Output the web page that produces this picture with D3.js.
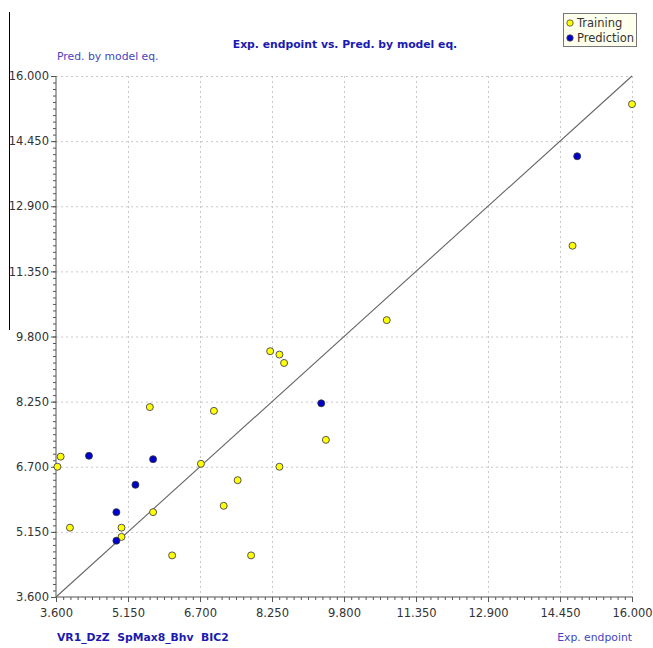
<!DOCTYPE html>
<html>
<head>
<meta charset="utf-8">
<script src="https://d3js.org/d3.v7.min.js"></script>
<style>
html,body{margin:0;padding:0;background:#fff;}
svg{display:block;}
</style>
</head>
<body>
<script>
// ---- data ----
const tickValues = [3.6, 5.15, 6.7, 8.25, 9.8, 11.35, 12.9, 14.45, 16.0];
const trainingX = [3.63, 3.70, 3.90, 5.01, 5.01, 5.62, 5.69, 6.10, 6.72, 7.00, 7.21, 7.51, 7.80, 8.21, 8.41, 8.51, 8.41, 9.41, 10.72, 14.72, 16.0];
const trainingY = [6.70, 6.94, 5.25, 5.25, 5.03, 8.12, 5.62, 4.59, 6.77, 8.03, 5.77, 6.38, 4.59, 9.45, 9.37, 9.17, 6.70, 7.34, 10.19, 11.96, 15.33];
const predictionX = [4.31, 4.90, 4.90, 5.31, 5.69, 9.31, 14.82];
const predictionY = [6.96, 5.62, 4.94, 6.27, 6.88, 8.21, 14.09];
const seriesNames = ["Training", "Prediction"];
const titleText = "Exp. endpoint vs. Pred. by model eq.";
const yTitle = "Pred. by model eq.";
const xTitle = "Exp. endpoint";
const modelText = "VR1_DzZ  SpMax8_Bhv  BIC2";

const W = 653, H = 648;
const svg = d3.select("body").append("svg").attr("width", W).attr("height", H);
const font = "Tahoma, 'DejaVu Sans', Verdana, sans-serif";

const x = d3.scaleLinear().domain([3.6, 16]).range([56, 632]);
const y = d3.scaleLinear().domain([3.6, 16]).range([597, 76]);

// stray vertical line at left
svg.append("line").attr("x1", 9.5).attr("x2", 9.5).attr("y1", 12).attr("y2", 330)
  .attr("stroke", "#000").attr("stroke-width", 1);

// grid
const grid = svg.append("g");
tickValues.slice(1).forEach(v => {
  grid.append("line").attr("x1", x(v)+0.5).attr("x2", x(v)+0.5).attr("y1", y(16)).attr("y2", y(3.6))
    .attr("stroke", "#c8c8c8").attr("stroke-dasharray", "2,3");
  grid.append("line").attr("x1", x(3.6)).attr("x2", x(16)).attr("y1", y(v)+0.5).attr("y2", y(v)+0.5)
    .attr("stroke", "#c8c8c8").attr("stroke-dasharray", "2,3");
});

// minor ticks
const minor = d3.range(0, 81).map(i => 3.6 + i * 0.155);

const xAxisMinor = d3.axisBottom(x).tickValues(minor).tickSize(3).tickFormat("");
const yAxisMinor = d3.axisLeft(y).tickValues(minor).tickSize(3).tickFormat("");
const xAxis = d3.axisBottom(x).tickValues(tickValues).tickSize(5).tickPadding(7).tickFormat(d3.format(".3f"));
const yAxis = d3.axisLeft(y).tickValues(tickValues).tickSize(5).tickPadding(2).tickFormat(d3.format(".3f"));

function style(g){
  g.selectAll("path,line").attr("stroke", "#555");
  g.selectAll("text").attr("fill", "#333").style("font-family", font).style("font-size", "11.5px");
}
svg.append("g").attr("transform", `translate(0,${y(3.6)})`).call(xAxisMinor).call(style).select(".domain").remove();
svg.append("g").attr("transform", `translate(${x(3.6)},0)`).call(yAxisMinor).call(style).select(".domain").remove();
svg.append("g").attr("transform", `translate(0,${y(3.6)})`).call(xAxis).call(style).call(g => g.select(".domain").attr("d", `M${x(3.6)},0H${x(16)}`));
svg.append("g").attr("transform", `translate(${x(3.6)},0)`).call(yAxis).call(style).call(g => g.select(".domain").attr("d", `M0,${y(3.6)}V${y(16)}`));

// diagonal
svg.append("line").attr("x1", x(3.6)).attr("y1", y(3.6)).attr("x2", x(16)).attr("y2", y(16))
  .attr("stroke", "#666").attr("stroke-width", 1.1);

// points
const training = trainingX.map((v, i) => [v, trainingY[i]]);
const prediction = predictionX.map((v, i) => [v, predictionY[i]]);
svg.append("g").selectAll("circle").data(training).join("circle")
  .attr("cx", d => x(d[0])).attr("cy", d => y(d[1])).attr("r", 3.5)
  .attr("fill", "#ffff00").attr("stroke", "#555").attr("stroke-width", 1);
svg.append("g").selectAll("circle").data(prediction).join("circle")
  .attr("cx", d => x(d[0])).attr("cy", d => y(d[1])).attr("r", 3.5)
  .attr("fill", "#0000cc").attr("stroke", "#333").attr("stroke-width", 0.8);

// texts
svg.append("text").attr("x", 345).attr("y", 48).attr("text-anchor", "middle")
  .style("font-family", font).style("font-size", "10.8px").style("font-weight", "bold")
  .attr("fill", "#1a1ab0").text(titleText);
svg.append("text").attr("x", 57).attr("y", 60)
  .style("font-family", font).style("font-size", "10.8px")
  .attr("fill", "#4545c0").text(yTitle);
svg.append("text").attr("x", 57).attr("y", 641)
  .style("font-family", font).style("font-size", "10.8px").style("font-weight", "bold")
  .attr("fill", "#1a1ab0").attr("xml:space", "preserve").style("white-space", "pre").text(modelText);
svg.append("text").attr("x", 632).attr("y", 641).attr("text-anchor", "end")
  .style("font-family", font).style("font-size", "10.8px")
  .attr("fill", "#4545c0").text(xTitle);

// legend
const lg = svg.append("g");
lg.append("rect").attr("x", 563.5).attr("y", 13.5).attr("width", 73).attr("height", 33)
  .attr("fill", "#ffffee").attr("stroke", "#777");
const colors = ["#ffff00", "#0000cc"];
seriesNames.forEach((n, i) => {
  lg.append("circle").attr("cx", 570).attr("cy", 23 + i * 15).attr("r", 3.2)
    .attr("fill", colors[i]).attr("stroke", "#444").attr("stroke-width", 0.8);
  lg.append("text").attr("x", 577).attr("y", 27 + i * 15)
    .style("font-family", font).style("font-size", "11.5px").attr("fill", "#333").text(n);
});
</script>
</body>
</html>
